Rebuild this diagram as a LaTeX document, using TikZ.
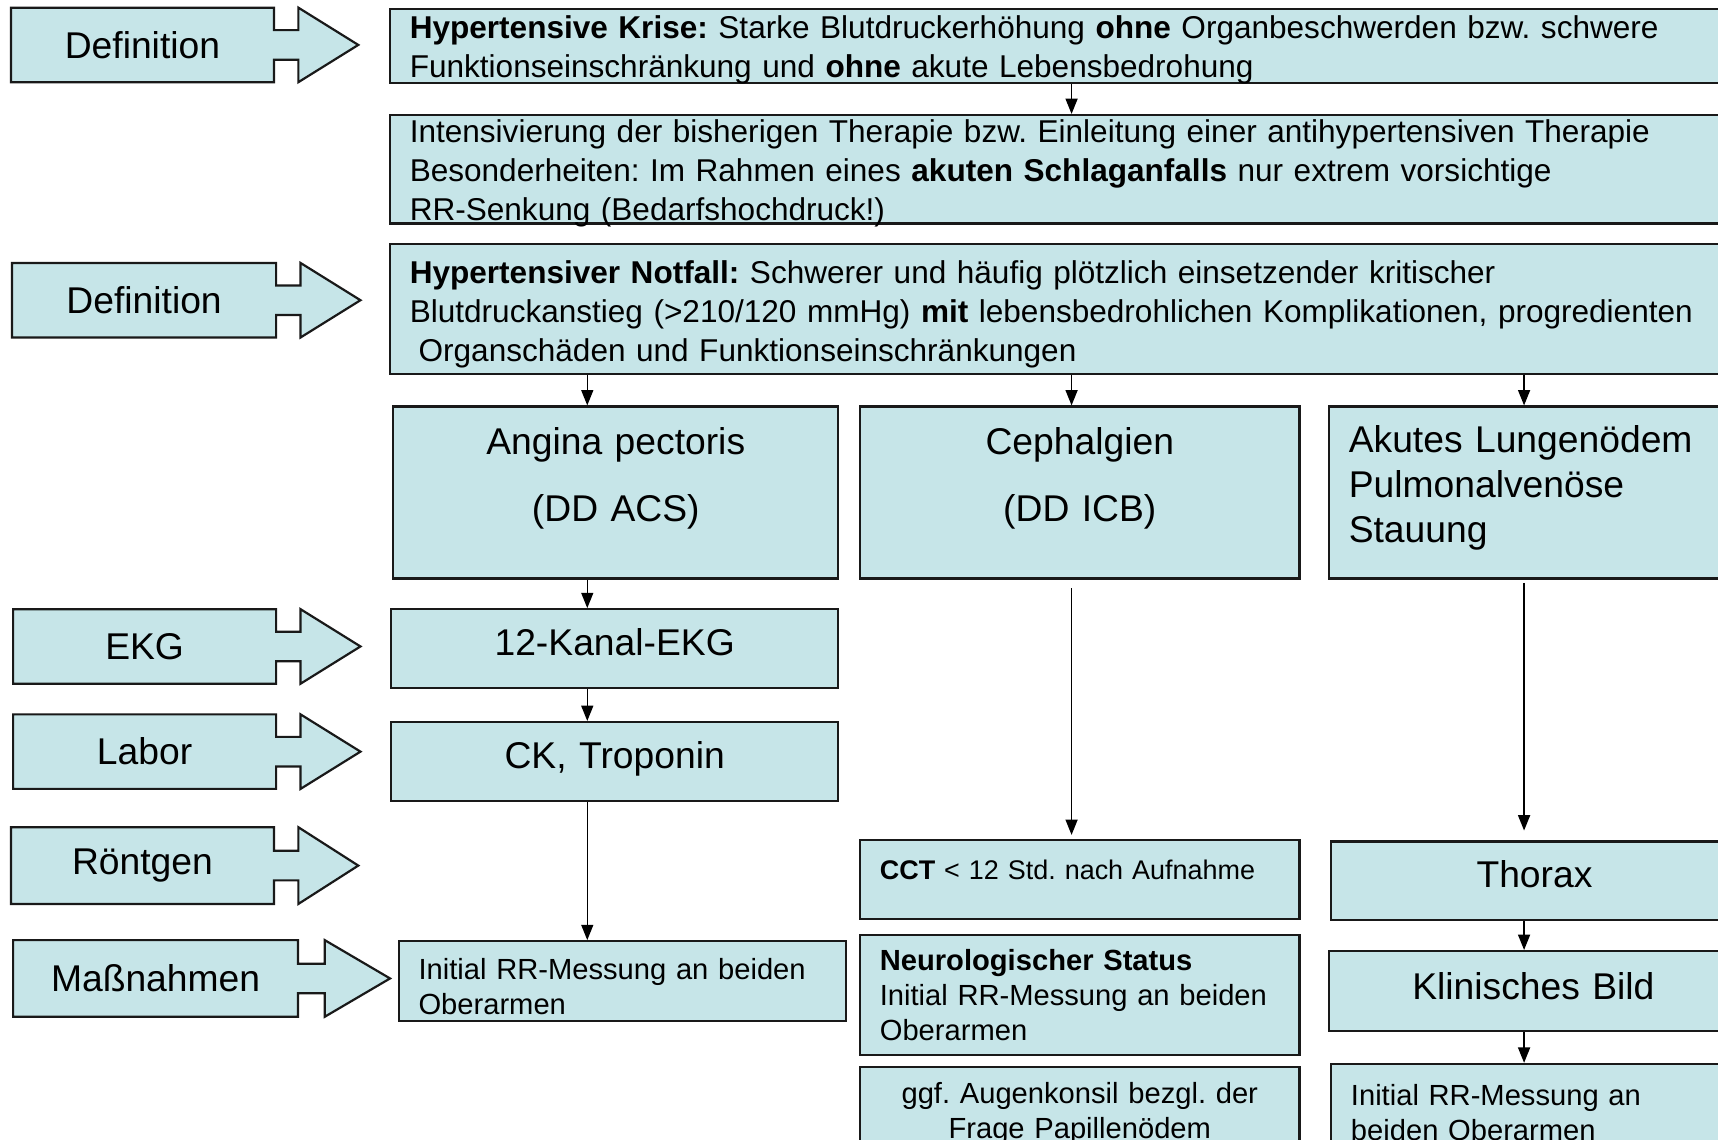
\documentclass[tikz,border=0pt]{standalone}
\usepackage{fontspec}
\setmainfont{Liberation Sans}
\usetikzlibrary{arrows.meta}
\definecolor{PaleTeal}{RGB}{198,229,232}
\definecolor{FrameGray}{RGB}{25,25,25}
\frenchspacing
\newcommand{\bigfont}{\fontsize{17}{20.5}\selectfont}
\newcommand{\normfont}{\fontsize{13.3}{16}\selectfont}
\newcommand{\topfont}{\fontsize{14.4}{17.7}\selectfont}
% block arrow on the left: name, left, right, tip, top, bottom, text
\newcommand{\sidearrow}[7]{%
  \pgfmathsetmacro{\sam}{(#5+#6)/2}
  \pgfmathsetmacro{\sas}{#3+0.29*(#4-#3)}
  \draw[sidebox] (#2,#5) -- (#3,#5) -- (#3,\sam-13.5) -- (\sas,\sam-13.5) -- (\sas,#5)
    -- (#4,\sam) -- (\sas,#6) -- (\sas,\sam+13.5) -- (#3,\sam+13.5) -- (#3,#6) -- (#2,#6) -- cycle;
  \node[font=\bigfont] (#1) at ({(#2+#3)/2},\sam) {#7};
}
\tikzset{
  box/.style    ={rectangle, draw=FrameGray, fill=PaleTeal, line width=1pt,
                  inner xsep=9pt, inner ysep=0pt, font=\normfont, anchor=north west},
  lbox/.style   ={box, align=left},
  cbox/.style   ={box, align=center},
  sidebox/.style={draw=FrameGray, fill=PaleTeal, line width=1pt},
  arr/.style    ={-{Triangle[length=7pt,width=5.5pt]}, line width=.6pt},
}

\begin{document}
\begin{tikzpicture}[x=0.5pt,y=-0.5pt]
  \useasboundingbox (0,0) rectangle (1568,1040);
  \clip (0,0) rectangle (1568,1040);

  \foreach \nm/\xl/\xr/\xt/\yt/\yb/\txt in {def1/10/250/327/7/75/Definition,
      def2/11/252/329/240/308/Definition, ekg/12/252/329/556/624/EKG,
      labor/12/252/329/652/720/Labor, roentgen/10/250/327/755/825/Röntgen,
      massnahmen/12/272/356/858/928/Maßnahmen}{
    \sidearrow{\nm}{\xl}{\xr}{\xt}{\yt}{\yb}{\txt}
  }

  % top row
  \node[lbox,font=\topfont,text width=604.5pt,minimum height=34pt,
        text height=13.5pt,text depth=20.5pt] (krise) at (355,7)
    {\textbf{Hypertensive Krise:} Starke Blutdruckerhöhung \textbf{ohne} Organbeschwerden bzw. schwere\\
     Funktionseinschränkung und \textbf{ohne} akute Lebensbedrohung};
  \node[lbox,font=\topfont,text width=604.5pt,minimum height=49.5pt,
        text height=12.7pt,text depth=36.8pt] (therapie) at (355,104)
    {Intensivierung der bisherigen Therapie bzw. Einleitung einer antihypertensiven Therapie\\
     Besonderheiten: Im Rahmen eines \textbf{akuten Schlaganfalls} nur extrem vorsichtige\\
     RR-Senkung (Bedarfshochdruck!)};
  \node[lbox,font=\topfont,text width=604.5pt,minimum height=59pt,
        text height=17.9pt,text depth=41.1pt] (notfall) at (355,222)
    {\textbf{Hypertensiver Notfall:} Schwerer und häufig plötzlich einsetzender kritischer\\
     Blutdruckanstieg (>210/120 mmHg) \textbf{mit} lebensbedrohlichen Komplikationen, progredienten\\
     \hspace*{.28em}Organschäden und Funktionseinschränkungen};

  % three columns
  \node[cbox,font=\bigfont,text width=185pt,minimum height=78.5pt] (angina) at (358,370)
    {Angina pectoris\\[10pt](DD ACS)\\[-4.3pt]\mbox{}};
  \node[cbox,font=\bigfont,text width=182.5pt,minimum height=78.5pt] (cephalgien) at (784,370)
    {Cephalgien\\[10pt](DD ICB)\\[-4.3pt]\mbox{}};
  \node[lbox,font=\bigfont,text width=168.5pt,minimum height=78.5pt,
        text height=21.15pt,text depth=57.35pt] (lungenoedem) at (1212,370)
    {Akutes Lungenödem\\Pulmonalvenöse\\Stauung};

  \node[cbox,font=\bigfont,text width=186pt,minimum height=36pt,text depth=6pt] (kanal) at (356,555) {12-Kanal-EKG};
  \node[cbox,font=\bigfont,text width=186pt,minimum height=36pt,text depth=5.6pt] (troponin) at (356,658) {CK, Troponin};
  \node[lbox,text width=186pt,minimum height=36.5pt,text height=17.5pt,text depth=19pt] (messungA) at (363,858)
    {Initial RR-Messung an beiden\\Oberarmen};

  \node[lbox,font=\fontsize{12.3}{16}\selectfont,text width=182.5pt,minimum height=36pt] (cct) at (784,766)
    {\textbf{CCT} < 12 Std. nach Aufnahme\\[-7pt]\mbox{}};
  \node[lbox,text width=182.5pt,minimum height=55pt] (neuro) at (784,852)
    {\textbf{Neurologischer Status}\\Initial RR-Messung an beiden\\Oberarmen};
  \node[cbox,text width=182.5pt,minimum height=42.5pt] (augen) at (784,973)
    {ggf. Augenkonsil bezgl. der\\Frage Papillenödem};

  \node[cbox,font=\bigfont,text width=167.5pt,minimum height=36pt,text depth=6pt] (thorax) at (1214,767) {Thorax};
  \node[cbox,font=\bigfont,text width=168.5pt,minimum height=36.5pt,text depth=5pt] (klinik) at (1212,867) {Klinisches Bild};
  \node[lbox,text width=167.5pt,minimum height=44pt] (messungC) at (1214,970)
    {Initial RR-Messung an\\beiden Oberarmen};

  % connectors
  \coordinate (colA) at (536,0);
  \coordinate (colB) at (978,0);
  \coordinate (colC) at (1391,0);
  \draw[arr] (krise.south -| colB) -- (therapie.north -| colB);
  \draw[arr] (notfall.south -| colA) -- (angina.north -| colA);
  \draw[arr] (notfall.south -| colB) -- (cephalgien.north -| colB);
  \draw[arr] (notfall.south -| colC) -- (lungenoedem.north -| colC);
  \draw[arr] (angina.south -| colA) -- (kanal.north -| colA);
  \draw[arr] (kanal.south -| colA) -- (troponin.north -| colA);
  \draw[arr] (troponin.south -| colA) -- (messungA.north -| colA);
  \draw[arr,shorten <=4pt,shorten >=2pt] (cephalgien.south -| colB) -- (cct.north -| colB);
  \draw[arr,shorten <=1.5pt,shorten >=4.5pt] (lungenoedem.south -| colC) -- (thorax.north -| colC);
  \draw[arr] (thorax.south -| colC) -- (klinik.north -| colC);
  \draw[arr] (klinik.south -| colC) -- (messungC.north -| colC);
\end{tikzpicture}
\end{document}
